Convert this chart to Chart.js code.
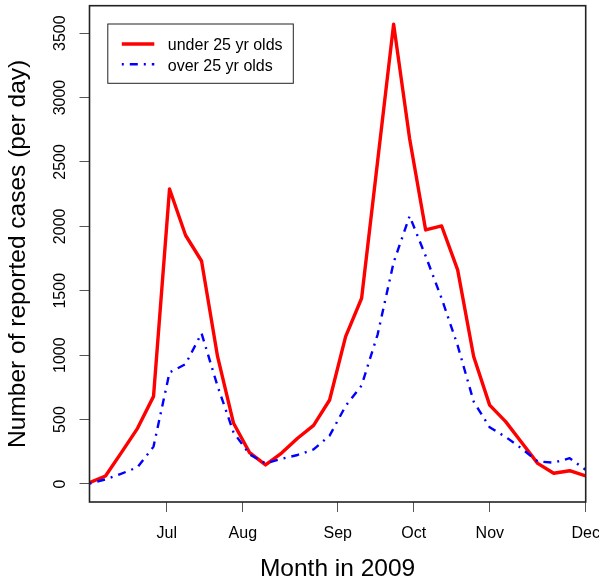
<!DOCTYPE html>
<html>
<head>
<meta charset="utf-8">
<script src="https://cdn.jsdelivr.net/npm/chart.js@4/dist/chart.umd.min.js"></script>
<style>
html, body { margin: 0; padding: 0; background: #ffffff; }
#wrap { width: 599px; height: 585px; }
</style>
</head>
<body>
<div id="wrap"><canvas id="c" width="599" height="585"></canvas></div>
<script>
// ---- data ----
const weekIndex = [0, 1, 2, 3, 4, 5, 6, 7, 8, 9, 10, 11, 12, 13, 14, 15,
                   16, 17, 18, 19, 20, 21, 22, 23, 24, 25, 26, 27, 28, 29, 30, 31];
const under25 = [10, 62, 245, 432, 680, 2290, 1931, 1731, 990, 471, 243, 148, 240, 355, 455, 652,
                 1144, 1442, 2505, 3570, 2680, 1972, 2003, 1662, 990, 612, 484, 322, 160, 83, 103, 62];
const over25  = [3, 36, 80, 130, 290, 866, 930, 1170, 760, 400, 230, 160, 195, 225, 268, 375,
                 605, 765, 1160, 1720, 2080, 1770, 1440, 1075, 640, 440, 365, 275, 175, 165, 200, 110];
const seriesLabels = ['under 25 yr olds', 'over 25 yr olds'];
const monthLabels = ['Jul', 'Aug', 'Sep', 'Oct', 'Nov', 'Dec'];
const monthTickPos = [4.83, 9.58, 15.51, 20.26, 25.01, 31];
const yTicks = [0, 500, 1000, 1500, 2000, 2500, 3000, 3500];
const xTitle = 'Month in 2009';
const yTitle = 'Number of reported cases (per day)';

const FONT = "'Liberation Sans', Arial, Helvetica, sans-serif";
Chart.defaults.font.family = FONT;
Chart.defaults.color = '#000000';

function toPoints(xs, ys) { return xs.map((x, i) => ({ x: x, y: ys[i] })); }

const framePlugin = {
  id: 'frame',
  afterDatasetsDraw(chart) {
    const { ctx, chartArea: a } = chart;
    ctx.save();
    ctx.strokeStyle = '#222222';
    ctx.lineWidth = 1.6;
    ctx.strokeRect(a.left, a.top, a.right - a.left, a.bottom - a.top);
    ctx.restore();
  }
};

const legendPlugin = {
  id: 'rlegend',
  afterDraw(chart) {
    const { ctx, chartArea: a } = chart;
    const bx = a.left + 18.3, by = a.top + 18.3, bw = 185.5, bh = 59.3;
    ctx.save();
    ctx.fillStyle = '#ffffff';
    ctx.fillRect(bx, by, bw, bh);
    ctx.strokeStyle = '#222222';
    ctx.lineWidth = 1;
    ctx.strokeRect(bx, by, bw, bh);
    const rows = [by + 20, by + 40.3];
    const textRows = [by + 26, by + 46.5];
    chart.data.datasets.forEach((ds, i) => {
      ctx.save();
      ctx.strokeStyle = ds.borderColor;
      ctx.lineWidth = ds.borderWidth;
      ctx.setLineDash(ds.borderDash || []);
      ctx.lineCap = 'butt';
      ctx.beginPath();
      ctx.moveTo(bx + 14, rows[i]);
      ctx.lineTo(bx + 46.5, rows[i]);
      ctx.stroke();
      ctx.restore();
      ctx.fillStyle = '#000000';
      ctx.font = '16px ' + FONT;
      ctx.textAlign = 'left';
      ctx.textBaseline = 'alphabetic';
      ctx.fillText(ds.label, bx + 60, textRows[i]);
    });
    ctx.restore();
  }
};

new Chart(document.getElementById('c'), {
  type: 'line',
  data: {
    datasets: [
      {
        label: seriesLabels[0],
        data: toPoints(weekIndex, under25),
        borderColor: '#ff0000',
        borderWidth: 3.4,
        borderJoinStyle: 'round',
        borderCapStyle: 'round',
        pointRadius: 0,
        tension: 0,
        fill: false,
        order: 1
      },
      {
        label: seriesLabels[1],
        data: toPoints(weekIndex, over25),
        borderColor: '#0000ff',
        borderWidth: 2.4,
        borderDash: [2, 6, 8, 6],
        borderJoinStyle: 'round',
        borderCapStyle: 'butt',
        pointRadius: 0,
        tension: 0,
        fill: false,
        order: 0
      }
    ]
  },
  options: {
    responsive: false,
    devicePixelRatio: 1,
    animation: false,
    layout: { padding: { left: 0, right: 13.3, top: 5.7, bottom: 0 } },
    plugins: { legend: { display: false }, tooltip: { enabled: false } },
    scales: {
      x: {
        type: 'linear',
        min: 0,
        max: 31,
        bounds: 'data',
        afterBuildTicks: (s) => { s.ticks = monthTickPos.map(v => ({ value: v })); },
        afterFit: (s) => { s.height = 83; s.paddingLeft = 0; s.paddingRight = 0; },
        ticks: {
          callback: (v, i) => monthLabels[i],
          font: { size: 16 },
          color: '#000000',
          padding: 11.5,
          autoSkip: false,
          minRotation: 0,
          maxRotation: 0
        },
        grid: { drawOnChartArea: false, drawTicks: true, tickLength: 10, color: '#555555', lineWidth: 1 },
        border: { display: false },
        title: {
          display: true,
          text: xTitle,
          font: { size: 24.5 },
          color: '#000000',
          padding: { top: 0, bottom: 1.2 }
        }
      },
      y: {
        type: 'linear',
        min: -140,
        max: 3713,
        bounds: 'data',
        afterBuildTicks: (s) => { s.ticks = yTicks.map(v => ({ value: v })); },
        afterFit: (s) => { s.width = 89.5; s.paddingTop = 0; s.paddingBottom = 0; },
        ticks: {
          callback: (v) => String(v),
          font: { size: 16 },
          color: '#000000',
          padding: 0.8,
          minRotation: 90,
          maxRotation: 90,
          crossAlign: 'center',
          autoSkip: false
        },
        grid: { drawOnChartArea: false, drawTicks: true, tickLength: 10, color: '#555555', lineWidth: 1 },
        border: { display: false },
        title: {
          display: true,
          text: yTitle,
          font: { size: 24.5 },
          color: '#000000',
          padding: { top: 3.7, bottom: 0 }
        }
      }
    }
  },
  plugins: [framePlugin, legendPlugin]
});
</script>
</body>
</html>
